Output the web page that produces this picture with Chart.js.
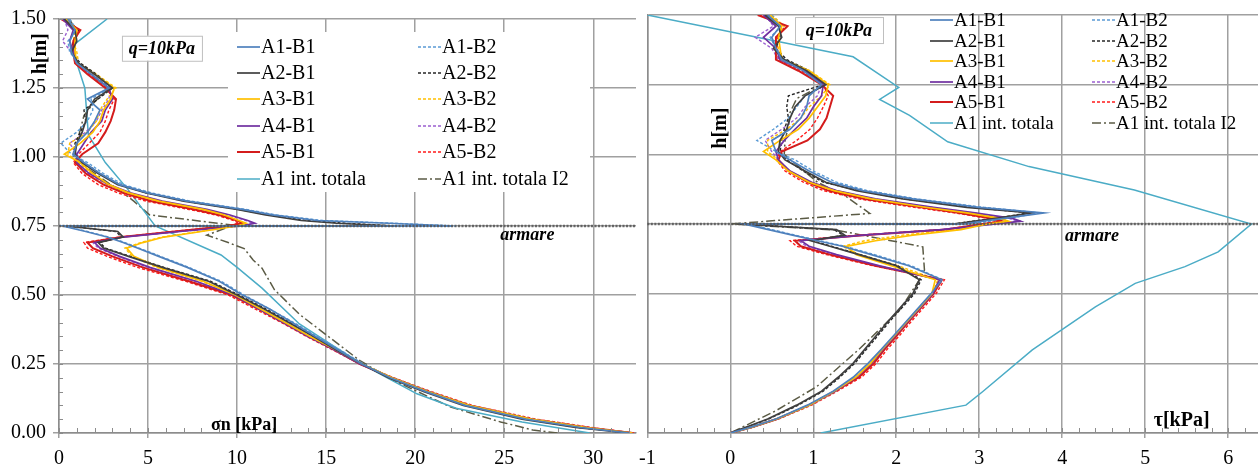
<!DOCTYPE html>
<html>
<head>
<meta charset="utf-8">
<script src="https://cdn.jsdelivr.net/npm/chart.js@4.4.1/dist/chart.umd.min.js"></script>
<style>
  html, body { margin: 0; padding: 0; background: #fff; }
  #wrap { position: relative; width: 1258px; height: 469px; overflow: hidden; }
  #sigmaChart { position: absolute; left: 0; top: 0; }
  #tauChart { position: absolute; left: 630px; top: 0; }
</style>
</head>
<body>
<div id="wrap">
  <canvas id="sigmaChart" width="640" height="469"></canvas>
  <canvas id="tauChart" width="628" height="469"></canvas>
</div>
<script>
// depth levels h [m] shared by the A*-B* profiles
const H = [1.50, 1.46, 1.42, 1.38, 1.34, 1.30, 1.25, 1.21, 1.17, 1.13, 1.09, 1.05, 1.01,
           0.98, 0.94, 0.90, 0.87, 0.84, 0.81, 0.79, 0.77, 0.76, 0.75,
           0.75, 0.73, 0.71, 0.69, 0.67, 0.64, 0.60, 0.55, 0.50, 0.45, 0.40, 0.35, 0.30,
           0.25, 0.20, 0.15, 0.10, 0.05, 0.02, 0.00];

const ARMARE_H = 0.75;
const hTicks = [0, 0.25, 0.5, 0.75, 1.0, 1.25, 1.5];
const sigTicks = [0, 5, 10, 15, 20, 25, 30];
const tauTicks = [-1, 0, 1, 2, 3, 4, 5, 6];

const seriesB1 = ['A1-B1', 'A2-B1', 'A3-B1', 'A4-B1', 'A5-B1'];
const seriesB2 = ['A1-B2', 'A2-B2', 'A3-B2', 'A4-B2', 'A5-B2'];
const labelTot = 'A1 int. totala';
const labelI2 = 'A1 int. totala I2';

// normal stress sigma_n [kPa]
const sigA1B1 = [0.5, 0.9, 0.6, 0.7, 1.0, 1.8, 2.8, 1.6, 2.3, 2.0, 1.6, 1.0, 0.8,
  1.4, 2.3, 3.4, 5.0, 7.2, 10.3, 12.0, 14.5, 18.5, 22.1,
  0.2, 1.5, 2.7, 3.6, 4.4, 5.6, 7.2, 9.0, 10.3, 11.8, 13.1, 14.4, 15.7, 17.0, 18.6, 20.6, 22.8, 26.2, 29.3, 32.0];
const sigA2B1 = [0.3, 0.9, 1.0, 0.7, 1.1, 2.0, 3.0, 2.0, 1.6, 1.5, 1.3, 1.0, 0.9,
  1.3, 2.2, 3.3, 4.9, 7.0, 10.0, 11.6, 13.6, 15.6, 18.8,
  0.4, 3.3, 3.6, 2.2, 2.5, 3.9, 5.8, 8.4, 10.0, 11.5, 12.9, 14.3, 15.6, 17.0, 18.5, 20.5, 22.7, 26.0, 29.0, 32.0];
const sigA3B1 = [0.4, 1.0, 0.9, 0.9, 1.0, 2.0, 3.1, 2.9, 2.5, 2.3, 1.9, 1.2, 0.3,
  1.2, 1.9, 2.8, 3.9, 5.6, 8.1, 9.3, 10.1, 10.5, 10.0,
  10.0, 8.0, 5.9, 4.7, 3.8, 4.2, 5.6, 8.1, 9.9, 11.3, 12.7, 14.1, 15.6, 17.0, 18.7, 20.7, 23.0, 26.5, 29.6, 32.2];
const sigA4B1 = [0.2, 0.8, 0.6, 0.8, 1.0, 1.8, 2.8, 3.0, 2.6, 2.4, 1.8, 1.4, 1.0,
  1.0, 1.7, 2.8, 4.0, 5.8, 8.3, 9.6, 10.6, 11.0, 10.2,
  10.2, 6.8, 3.6, 2.0, 2.3, 3.4, 5.1, 7.7, 9.8, 11.2, 12.6, 14.0, 15.5, 16.9, 18.7, 20.7, 23.0, 26.5, 29.6, 32.2];
const sigA5B1 = [0.1, 1.2, 0.8, 0.8, 0.9, 1.6, 2.6, 3.2, 3.1, 2.9, 2.6, 2.2, 1.3,
  0.9, 1.5, 2.5, 3.6, 5.2, 7.6, 9.0, 10.0, 10.3, 9.5,
  9.5, 6.5, 3.5, 1.6, 1.9, 3.0, 4.7, 7.3, 9.7, 11.2, 12.6, 14.0, 15.5, 16.9, 18.7, 20.7, 23.0, 26.5, 29.6, 32.2];
const sigA1B2 = [0.6, 1.0, 0.5, 0.6, 1.1, 1.9, 2.9, 1.8, 1.9, 1.6, 1.0, 0.1, 0.7,
  1.6, 2.5, 3.6, 5.2, 7.4, 10.5, 12.2, 14.8, 18.8, 22.3,
  0.3, 1.6, 2.8, 3.7, 4.5, 5.7, 7.3, 9.1, 10.4, 11.8, 13.2, 14.5, 15.8, 17.1, 18.7, 20.8, 23.0, 26.4, 29.5, 32.1];
const sigA2B2 = [0.4, 1.1, 0.8, 0.7, 1.2, 2.1, 3.0, 2.2, 1.4, 1.5, 1.2, 0.9, 0.8,
  1.4, 2.3, 3.4, 4.9, 7.1, 10.1, 11.8, 13.9, 16.1, 19.0,
  0.5, 3.2, 3.5, 2.3, 2.6, 4.0, 5.9, 8.5, 10.1, 11.6, 13.0, 14.3, 15.7, 17.0, 18.6, 20.6, 22.8, 26.2, 29.2, 32.1];
const sigA3B2 = [0.5, 0.9, 0.8, 1.0, 1.1, 2.1, 3.2, 2.7, 2.3, 2.1, 1.6, 0.6, 0.5,
  1.1, 1.8, 2.7, 3.8, 5.5, 8.0, 9.2, 10.0, 10.4, 9.9,
  9.9, 7.9, 5.8, 4.6, 3.7, 4.1, 5.5, 8.0, 9.9, 11.3, 12.7, 14.1, 15.6, 17.0, 18.7, 20.8, 23.1, 26.6, 29.7, 32.3];
const sigA4B2 = [0.3, 0.5, 0.2, 0.7, 1.0, 1.8, 2.9, 2.8, 2.4, 2.1, 1.5, 0.6, 1.0,
  1.0, 1.6, 2.7, 3.9, 5.6, 8.1, 9.5, 10.5, 10.9, 10.1,
  10.1, 6.7, 3.5, 1.9, 2.2, 3.3, 5.0, 7.6, 9.7, 11.2, 12.6, 14.0, 15.5, 16.9, 18.7, 20.8, 23.1, 26.6, 29.7, 32.3];
const sigA5B2 = [0.2, 1.1, 0.9, 0.8, 0.9, 1.7, 2.7, 3.1, 2.8, 2.6, 2.3, 1.7, 1.1,
  0.8, 1.3, 2.2, 3.3, 4.9, 7.3, 8.8, 9.8, 10.1, 9.4,
  9.4, 6.4, 3.4, 1.4, 1.6, 2.7, 4.4, 7.1, 9.5, 11.0, 12.5, 13.9, 15.4, 16.9, 18.8, 20.9, 23.2, 26.8, 29.9, 32.3];

const hTotSig = [1.50, 1.40, 1.25, 1.08, 0.98, 0.88, 0.75, 0.645, 0.60, 0.525, 0.395, 0.32, 0.25, 0.142, 0.09, 0.04, 0.00];
const sigTot = [2.7, 0.7, 1.45, 1.65, 2.6, 3.9, 5.4, 9.1, 10.0, 11.4, 13.5, 15.3, 17.0, 20.1, 22.3, 26.0, 29.8];

const hI2Sig = [1.50, 1.45, 1.40, 1.35, 1.30, 1.25, 1.20, 1.15, 1.10, 1.05, 1.00, 0.95, 0.90, 0.87, 0.84, 0.79,
  0.753, 0.717, 0.69, 0.668, 0.627, 0.597, 0.519, 0.43, 0.346, 0.262, 0.19, 0.094, 0.04, 0.011, 0.00];
const sigI2 = [0.6, 1.0, 0.8, 0.9, 1.7, 2.8, 2.0, 1.4, 1.2, 1.0, 0.8, 1.8, 2.9, 3.6, 4.2, 5.1,
  9.8, 8.3, 9.5, 10.4, 10.9, 11.4, 12.1, 13.5, 15.2, 16.9, 18.8, 22.0, 24.8, 26.6, 28.0];

// shear stress tau [kPa]
const tauA1B1 = [0.45, 0.60, 0.50, 0.55, 0.62, 0.88, 1.10, 0.95, 0.92, 0.85, 0.72, 0.50, 0.55,
  0.72, 0.95, 1.22, 1.60, 2.20, 3.00, 3.78, 3.30, 3.05, 2.80,
  0.17, 0.46, 0.75, 1.05, 1.35, 1.70, 2.15, 2.55, 2.42, 2.27, 2.12, 1.97, 1.82, 1.66, 1.48, 1.24, 0.93, 0.55, 0.24, 0.00];
const tauA2B1 = [0.42, 0.58, 0.62, 0.52, 0.65, 0.92, 1.15, 0.90, 0.78, 0.72, 0.68, 0.60, 0.58,
  0.66, 0.90, 1.15, 1.52, 2.08, 2.85, 3.64, 3.20, 2.95, 2.70,
  0.09, 1.28, 1.38, 0.97, 1.20, 1.55, 2.00, 2.28, 2.20, 2.05, 1.90, 1.76, 1.62, 1.48, 1.30, 1.10, 0.80, 0.45, 0.18, 0.00];
const tauA3B1 = [0.48, 0.62, 0.58, 0.60, 0.62, 0.95, 1.18, 1.15, 1.05, 0.95, 0.82, 0.60, 0.40,
  0.55, 0.70, 0.95, 1.25, 1.70, 2.35, 2.85, 3.25, 3.35, 3.10,
  3.10, 2.78, 2.20, 1.75, 1.40, 1.52, 1.94, 2.47, 2.43, 2.28, 2.13, 1.98, 1.83, 1.69, 1.51, 1.25, 0.95, 0.56, 0.25, 0.00];
const tauA4B1 = [0.40, 0.55, 0.40, 0.55, 0.60, 0.90, 1.12, 1.10, 1.00, 0.92, 0.78, 0.65, 0.55,
  0.58, 0.72, 0.98, 1.28, 1.75, 2.45, 2.95, 3.40, 3.50, 3.20,
  3.20, 2.55, 1.60, 0.85, 0.95, 1.28, 1.80, 2.52, 2.44, 2.29, 2.14, 1.99, 1.84, 1.70, 1.52, 1.26, 0.95, 0.56, 0.25, 0.00];
const tauA5B1 = [0.33, 0.69, 0.55, 0.55, 0.55, 0.82, 1.10, 1.24, 1.20, 1.16, 1.08, 0.93, 0.62,
  0.58, 0.70, 0.93, 1.18, 1.62, 2.30, 2.75, 3.15, 3.28, 3.05,
  3.05, 2.60, 1.60, 0.78, 0.85, 1.20, 1.75, 2.55, 2.45, 2.30, 2.15, 2.01, 1.86, 1.73, 1.55, 1.26, 0.95, 0.56, 0.25, 0.00];
const tauA1B2 = [0.50, 0.62, 0.48, 0.55, 0.65, 0.92, 1.15, 0.90, 0.80, 0.70, 0.52, 0.32, 0.55,
  0.78, 1.00, 1.28, 1.65, 2.25, 3.05, 3.72, 3.35, 3.12, 2.90,
  0.20, 0.50, 0.78, 1.08, 1.38, 1.74, 2.18, 2.56, 2.44, 2.29, 2.14, 1.99, 1.84, 1.69, 1.51, 1.27, 0.96, 0.57, 0.26, 0.00];
const tauA2B2 = [0.45, 0.60, 0.60, 0.55, 0.68, 0.95, 1.12, 0.70, 0.68, 0.70, 0.65, 0.62, 0.60,
  0.68, 0.88, 1.12, 1.55, 2.10, 2.90, 3.60, 3.18, 2.92, 2.68,
  0.12, 1.25, 1.36, 0.99, 1.22, 1.57, 2.02, 2.30, 2.22, 2.07, 1.92, 1.78, 1.64, 1.50, 1.32, 1.12, 0.82, 0.46, 0.19, 0.00];
const tauA3B2 = [0.50, 0.65, 0.55, 0.58, 0.64, 0.96, 1.20, 1.10, 0.95, 0.85, 0.68, 0.45, 0.45,
  0.58, 0.72, 0.97, 1.27, 1.72, 2.38, 2.88, 3.27, 3.33, 3.08,
  3.08, 2.74, 2.08, 1.62, 1.35, 1.56, 2.02, 2.50, 2.44, 2.29, 2.14, 1.99, 1.84, 1.70, 1.52, 1.27, 0.96, 0.57, 0.26, 0.00];
const tauA4B2 = [0.42, 0.52, 0.30, 0.50, 0.58, 0.88, 1.10, 1.05, 0.90, 0.80, 0.62, 0.42, 0.50,
  0.58, 0.70, 0.96, 1.26, 1.72, 2.42, 2.92, 3.36, 3.46, 3.18,
  3.18, 2.52, 1.56, 0.82, 0.92, 1.25, 1.78, 2.53, 2.45, 2.30, 2.15, 2.00, 1.85, 1.71, 1.53, 1.27, 0.96, 0.57, 0.26, 0.00];
const tauA5B2 = [0.35, 0.66, 0.57, 0.56, 0.58, 0.86, 1.12, 1.18, 1.12, 1.05, 0.96, 0.80, 0.60,
  0.56, 0.66, 0.88, 1.12, 1.55, 2.22, 2.70, 3.12, 3.26, 3.02,
  3.02, 2.58, 1.55, 0.72, 0.80, 1.16, 1.72, 2.58, 2.48, 2.33, 2.18, 2.04, 1.89, 1.76, 1.58, 1.29, 0.98, 0.58, 0.26, 0.00];

const hTotTau = [1.50, 1.35, 1.24, 1.197, 1.14, 1.045, 0.956, 0.872, 0.75, 0.65, 0.597, 0.537, 0.453, 0.298, 0.148, 0.10, 0.00];
const tauTot = [-1.0, 1.48, 2.03, 1.80, 2.16, 2.62, 3.60, 4.87, 6.28, 5.88, 5.48, 4.88, 4.40, 3.64, 3.04, 2.84, 1.09];

const hI2Tau = [1.50, 1.45, 1.40, 1.35, 1.30, 1.25, 1.20, 1.15, 1.10, 1.05, 1.00, 0.95, 0.90, 0.848, 0.788,
  0.75, 0.728, 0.668, 0.585, 0.55, 0.441, 0.30, 0.166, 0.08, 0.00];
const tauI2 = [0.45, 0.62, 0.55, 0.55, 0.90, 1.12, 0.80, 0.72, 0.70, 0.66, 0.65, 0.85, 1.05, 1.40, 1.68,
  0.00, 1.28, 2.32, 2.34, 2.28, 2.04, 1.55, 1.04, 0.55, 0.00];

const SERIF = '"Liberation Serif", "Times New Roman", serif';

// line styles: B1 solid, B2 dashed
const colorsB1 = ['#4f81bd', '#3f3f3f', '#ffc000', '#7030a0', '#d41c1c'];
const colorsB2 = ['#5b9bd5', '#262626', '#ffc000', '#9b5fd0', '#ff1a1a'];

const toPoints = (hs, vs) => hs.map((h, i) => ({ x: vs[i], y: h }));

function makeDatasets(b1, b2, tot, hTot, i2, hI2) {
    const sets = [];
    b1.forEach((vals, i) => sets.push({
        label: seriesB1[i], data: toPoints(H, vals),
        borderColor: colorsB1[i], borderWidth: i === 4 ? 2 : 1.7, borderDash: []
    }));
    b2.forEach((vals, i) => sets.push({
        label: seriesB2[i], data: toPoints(H, vals),
        borderColor: colorsB2[i], borderWidth: 1.4, borderDash: [3, 2]
    }));
    sets.push({ label: labelTot, data: toPoints(hTot, tot), borderColor: '#4bacc6', borderWidth: 1.5, borderDash: [] });
    sets.push({ label: labelI2, data: toPoints(hI2, i2), borderColor: '#5b5b45', borderWidth: 1.5, borderDash: [9, 3, 2, 3] });
    sets.forEach(ds => {
        ds.showLine = true;
        ds.pointRadius = 0;
        ds.fill = false;
        ds.tension = 0;
    });
    return sets;
}

// minor ticks, reinforcement level, free text and the two-column legend
const decor = {
    id: 'decor',
    afterDatasetsDraw(chart, args, opts) {
        const { ctx, chartArea: a, scales: { x, y } } = chart;
        ctx.save();
        ctx.strokeStyle = '#8c8c8c';
        ctx.lineWidth = 1;
        ctx.beginPath();
        if (opts.xMinor) {
            for (let i = Math.ceil(x.min / opts.xMinor); i * opts.xMinor <= x.max + 1e-9; i++) {
                const px = Math.round(x.getPixelForValue(i * opts.xMinor)) + 0.5;
                ctx.moveTo(px, a.bottom);
                ctx.lineTo(px, a.bottom - 5);
            }
        }
        if (opts.yMinor) {
            for (let i = 0; i * opts.yMinor <= y.max + 1e-9; i++) {
                const py = Math.round(y.getPixelForValue(i * opts.yMinor)) + 0.5;
                ctx.moveTo(a.left, py);
                ctx.lineTo(a.left + 4, py);
            }
        }
        ctx.stroke();

        const yA = y.getPixelForValue(ARMARE_H);
        ctx.setLineDash([2, 1.5]);
        ctx.lineWidth = 2.5;
        ctx.strokeStyle = 'rgba(85, 85, 85, 0.85)';
        ctx.beginPath();
        ctx.moveTo(a.left, yA);
        ctx.lineTo(a.right, yA);
        ctx.stroke();
        ctx.restore();
    },
    afterDraw(chart, args, opts) {
        const { ctx, scales: { x, y } } = chart;
        ctx.save();
        ctx.textAlign = 'center';
        ctx.textBaseline = 'middle';
        (opts.texts || []).forEach(t => {
            const px = x.getPixelForValue(t.x);
            const py = y.getPixelForValue(t.y);
            ctx.save();
            ctx.translate(px, py);
            if (t.rotate) ctx.rotate(t.rotate);
            if (t.box) {
                ctx.fillStyle = '#fff';
                ctx.fillRect(-t.box[0] / 2, -t.box[1] / 2, t.box[0], t.box[1]);
                ctx.strokeStyle = '#bfbfbf';
                ctx.lineWidth = 1;
                ctx.strokeRect(-t.box[0] / 2 + 0.5, -t.box[1] / 2 + 0.5, t.box[0], t.box[1]);
            }
            ctx.font = t.font;
            ctx.fillStyle = '#000';
            ctx.fillText(t.text, 0, 1);
            ctx.restore();
        });

        const lg = opts.legend;
        if (lg) {
            if (lg.bg) {
                ctx.fillStyle = '#fff';
                ctx.fillRect(lg.bg[0], lg.bg[1], lg.bg[2], lg.bg[3]);
            }
            ctx.font = lg.font;
            ctx.textAlign = 'left';
            lg.columns.forEach((col, c) => {
                col.forEach((idx, r) => {
                    const ds = chart.data.datasets[idx];
                    const lx = lg.colX[c];
                    const ly = lg.rowY[r];
                    ctx.strokeStyle = ds.borderColor;
                    ctx.lineWidth = ds.borderWidth;
                    ctx.setLineDash(ds.borderDash || []);
                    ctx.beginPath();
                    ctx.moveTo(lx, ly);
                    ctx.lineTo(lx + lg.lineLen, ly);
                    ctx.stroke();
                    ctx.setLineDash([]);
                    ctx.fillStyle = '#000';
                    ctx.fillText(ds.label, lx + lg.lineLen + 1, ly + 1);
                });
            });
        }
        ctx.restore();
    }
};

function renderProfile(canvasId, cfg) {
    const ctx = document.getElementById(canvasId).getContext('2d');
    const gridColor = '#a0a0a0';
    return new Chart(ctx, {
        type: 'scatter',
        data: { datasets: cfg.datasets },
        plugins: [decor],
        options: {
            responsive: false,
            animation: false,
            layout: { padding: { top: 15, right: cfg.padRight, left: 0, bottom: 0 } },
            scales: {
                x: {
                    type: 'linear',
                    min: cfg.xMin,
                    max: cfg.xMax,
                    afterBuildTicks: s => { s.ticks = cfg.xTicks.map(v => ({ value: v })); },
                    afterFit: s => { s.height = 36; },
                    ticks: {
                        font: { family: SERIF, size: 20 },
                        color: '#000',
                        padding: 9,
                        maxRotation: 0,
                        autoSkip: false,
                        callback: v => String(v)
                    },
                    grid: { color: gridColor, lineWidth: 1.5, tickLength: 5 },
                    border: { color: '#8c8c8c', width: 1.5 }
                },
                y: {
                    type: 'linear',
                    min: 0,
                    max: 1.5,
                    afterBuildTicks: s => { s.ticks = hTicks.map(v => ({ value: v })); },
                    afterFit: s => { s.width = cfg.yWidth; },
                    ticks: {
                        display: cfg.yLabels,
                        font: { family: SERIF, size: 20 },
                        color: '#000',
                        padding: 7,
                        callback: v => v.toFixed(2)
                    },
                    grid: { color: gridColor, lineWidth: 1.5, tickLength: 6, drawTicks: cfg.yLabels },
                    border: { color: '#8c8c8c', width: 1.5 }
                }
            },
            plugins: {
                legend: { display: false },
                tooltip: { enabled: false },
                decor: {
                    xMinor: cfg.xMinor,
                    yMinor: cfg.yMinor,
                    texts: cfg.texts,
                    legend: cfg.legend
                }
            }
        }
    });
}

const legendColumns = [[0, 1, 2, 3, 4, 10], [5, 6, 7, 8, 9, 11]];

window.sigmaChart = renderProfile('sigmaChart', {
    datasets: makeDatasets([sigA1B1, sigA2B1, sigA3B1, sigA4B1, sigA5B1],
                           [sigA1B2, sigA2B2, sigA3B2, sigA4B2, sigA5B2],
                           sigTot, hTotSig, sigI2, hI2Sig),
    xMin: 0, xMax: 32.4, xTicks: sigTicks, xMinor: 1, yMinor: 0.05,
    yWidth: 59, yLabels: true, padRight: 4,
    texts: [
        { text: 'q=10kPa', x: 5.78, y: 1.394, font: 'bold italic 18px ' + SERIF, box: [80, 25] },
        { text: 'armare', x: 26.3, y: 0.721, font: 'bold italic 18px ' + SERIF },
        { text: 'σn [kPa]', x: 10.4, y: 0.033, font: 'bold 18px ' + SERIF },
        { text: 'h[m]', x: -1.07, y: 1.374, font: 'bold 20px ' + SERIF, rotate: -Math.PI / 2 }
    ],
    legend: {
        bg: [228, 32, 362, 160],
        colX: [237, 418], rowY: [47, 73, 99, 126, 152, 179],
        lineLen: 23, font: '20px ' + SERIF, columns: legendColumns
    }
});

window.tauChart = renderProfile('tauChart', {
    datasets: makeDatasets([tauA1B1, tauA2B1, tauA3B1, tauA4B1, tauA5B1],
                           [tauA1B2, tauA2B2, tauA3B2, tauA4B2, tauA5B2],
                           tauTot, hTotTau, tauI2, hI2Tau),
    xMin: -1, xMax: 6.36, xTicks: tauTicks, xMinor: 0.2, yMinor: 0,
    yWidth: 13, yLabels: false, padRight: 0,
    texts: [
        { text: 'q=10kPa', x: 1.31, y: 1.446, font: 'bold italic 18px ' + SERIF, box: [88, 26] },
        { text: 'armare', x: 4.36, y: 0.71, font: 'bold italic 18px ' + SERIF },
        { text: 'τ[kPa]', x: 5.44, y: 0.047, font: 'bold 20px ' + SERIF },
        { text: 'h[m]', x: -0.13, y: 1.094, font: 'bold 20px ' + SERIF, rotate: -Math.PI / 2 }
    ],
    legend: {
        bg: null,
        colX: [300, 462], rowY: [20, 41, 61, 82, 102, 123],
        lineLen: 23, font: '19px ' + SERIF, columns: legendColumns
    }
});
</script>
</body>
</html>
